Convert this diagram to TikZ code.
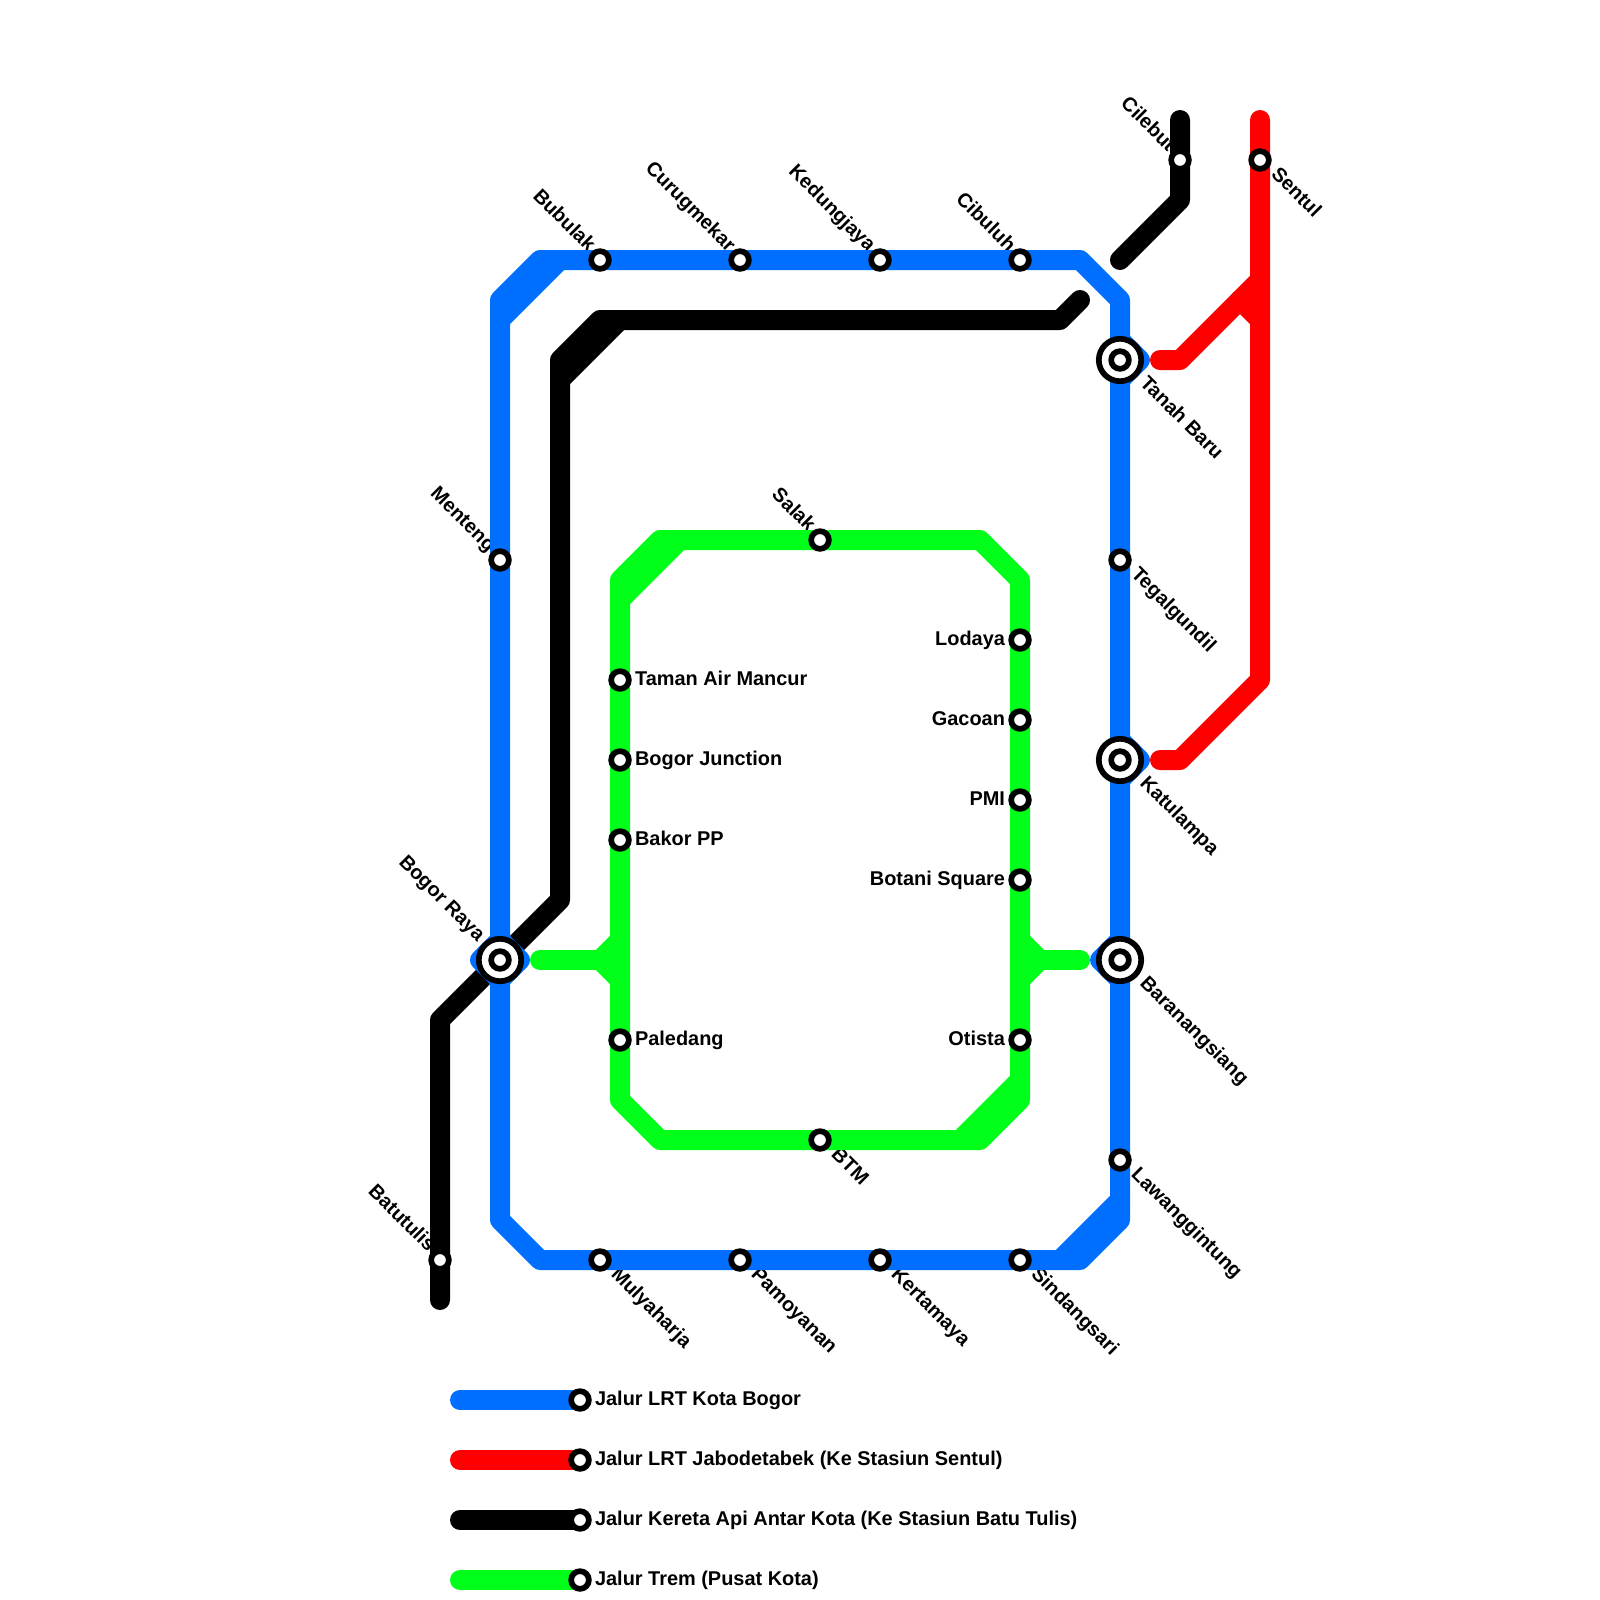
\documentclass[tikz,border=0pt]{standalone}
\usepackage{fontspec}
\setmainfont{Liberation Sans}
\definecolor{lrtblue}{HTML}{006EFF}
\definecolor{lrtred}{HTML}{FF0000}
\definecolor{tramgreen}{HTML}{00FF19}
\tikzset{
    track/.style={line width=0.5cm, line cap=round, line join=round},
    station/.style={circle, draw=black, fill=white, line width=0.1425cm, minimum size=0.4425cm, inner sep=0pt, outer sep=0pt},
    hubring/.style={circle, draw=black, fill=white, line width=0.1425cm, minimum size=1.06cm, inner sep=0pt, outer sep=0pt},
    stationtext/.style={font=\fontsize{14.17pt}{16pt}\selectfont\bfseries, inner sep=0pt, text=black, yshift=-0.125cm},
    upleft/.style={stationtext, rotate=-45, anchor=base east, xshift=-0.43cm},
    downright/.style={stationtext, rotate=-45, anchor=base west, xshift=0.36cm},
    hubupleft/.style={stationtext, rotate=-45, anchor=base east, xshift=-0.8cm},
    hubdownright/.style={stationtext, rotate=-45, anchor=base west, xshift=0.67cm},
    toright/.style={stationtext, anchor=base west, xshift=0.37cm},
    toleft/.style={stationtext, anchor=base east, xshift=-0.37cm}
}
\begin{document}
\begin{tikzpicture}[x=0.5cm, y=-0.5cm]
    \useasboundingbox (0,0) rectangle (80,80);

    % Station names
    \node[upleft] (bubulaktext) at (30,13) {Bubulak};
    \node[upleft] (curugmekartext) at (37,13) {Curugmekar};
    \node[upleft] (kedungjayatext) at (44,13) {Kedungjaya};
    \node[upleft] (cibuluhtext) at (51,13) {Cibuluh};
    \node[upleft] (cilebuttext) at (59,8) {Cilebut};
    \node[downright] (sentultext) at (63,8) {Sentul};
    \node[hubdownright] (tanahbarutext) at (56,18) {Tanah Baru};
    \node[downright] (tegalgundiltext) at (56,28) {Tegalgundil};
    \node[hubdownright] (katulampatext) at (56,38) {Katulampa};
    \node[hubdownright] (baranangsiangtext) at (56,48) {Baranangsiang};
    \node[downright] (lawanggintungtext) at (56,58) {Lawanggintung};
    \node[downright] (mulyaharjatext) at (30,63) {Mulyaharja};
    \node[downright] (pamoyanantext) at (37,63) {Pamoyanan};
    \node[downright] (kertamayatext) at (44,63) {Kertamaya};
    \node[downright] (sindangsaritext) at (51,63) {Sindangsari};
    \node[upleft] (batutulistext) at (22,63) {Batutulis};
    \node[upleft] (mentengtext) at (25,28) {Menteng};
    \node[hubupleft] (bogorrayatext) at (25,48) {Bogor Raya};
    \node[upleft] (salaktext) at (41,27) {Salak};
    \node[downright] (btmtext) at (41,57) {BTM};
    \node[toright] (tamantext) at (31,34) {Taman Air Mancur};
    \node[toright] (junctiontext) at (31,38) {Bogor Junction};
    \node[toright] (bakortext) at (31,42) {Bakor PP};
    \node[toright] (paledangtext) at (31,52) {Paledang};
    \node[toleft] (lodayatext) at (51,32) {Lodaya};
    \node[toleft] (gacoantext) at (51,36) {Gacoan};
    \node[toleft] (pmitext) at (51,40) {PMI};
    \node[toleft] (botanitext) at (51,44) {Botani Square};
    \node[toleft] (otistatext) at (51,52) {Otista};

    % Black line
    \draw[track, black] (59,6) -- (59,10) -- (56,13);
    \draw[track, black] (54,15) -- (53,16) -- (30,16) -- (28,18) -- (28,45) -- (22,51) -- (22,65);
    \draw[track, black] (28,19) -- (31,16);

    % Red line
    \draw[track, lrtred] (63,6) -- (63,34) -- (59,38) -- (58,38);
    \draw[track, lrtred] (58,18) -- (59,18) -- (63,14);
    \draw[track, lrtred] (62,15) -- (63,16);

    % Blue line
    \draw[track, lrtblue] (25,15) -- (27,13) -- (54,13) -- (56,15) -- (56,61) -- (54,63) -- (27,63) -- (25,61) -- cycle;
    \draw[track, lrtblue] (25,16) -- (28,13);
    \draw[track, lrtblue] (53,63) -- (56,60);
    \draw[track, lrtblue] (25,47) -- (24,48) -- (25,49) -- (26,48) -- cycle;
    \draw[track, lrtblue] (56,17) -- (57,18) -- (56,19);
    \draw[track, lrtblue] (56,37) -- (57,38) -- (56,39);
    \draw[track, lrtblue] (56,47) -- (55,48) -- (56,49);

    % Green line
    \draw[track, tramgreen] (31,29) -- (33,27) -- (49,27) -- (51,29) -- (51,55) -- (49,57) -- (33,57) -- (31,55) -- cycle;
    \draw[track, tramgreen] (31,30) -- (34,27);
    \draw[track, tramgreen] (48,57) -- (51,54);
    \draw[track, tramgreen] (27,48) -- (30,48);
    \draw[track, tramgreen] (31,47) -- (30,48) -- (31,49);
    \draw[track, tramgreen] (54,48) -- (52,48);
    \draw[track, tramgreen] (51,47) -- (52,48) -- (51,49);

    % Stations
    \node[station] (bubulak) at (30,13) {};
    \node[station] (curugmekar) at (37,13) {};
    \node[station] (kedungjaya) at (44,13) {};
    \node[station] (cibuluh) at (51,13) {};
    \node[station] (cilebut) at (59,8) {};
    \node[station] (sentul) at (63,8) {};
    \node[station] (tegalgundil) at (56,28) {};
    \node[station] (lawanggintung) at (56,58) {};
    \node[station] (mulyaharja) at (30,63) {};
    \node[station] (pamoyanan) at (37,63) {};
    \node[station] (kertamaya) at (44,63) {};
    \node[station] (sindangsari) at (51,63) {};
    \node[station] (batutulis) at (22,63) {};
    \node[station] (menteng) at (25,28) {};
    \node[station] (salak) at (41,27) {};
    \node[station] (btm) at (41,57) {};
    \node[station] (taman) at (31,34) {};
    \node[station] (junction) at (31,38) {};
    \node[station] (bakor) at (31,42) {};
    \node[station] (paledang) at (31,52) {};
    \node[station] (lodaya) at (51,32) {};
    \node[station] (gacoan) at (51,36) {};
    \node[station] (pmi) at (51,40) {};
    \node[station] (botani) at (51,44) {};
    \node[station] (otista) at (51,52) {};

    % Interchanges
    \node[hubring] (tanahbaruring) at (56,18) {};
    \node[station] (tanahbaru) at (56,18) {};
    \node[hubring] (katulampring) at (56,38) {};
    \node[station] (katulampa) at (56,38) {};
    \node[hubring] (baranangring) at (56,48) {};
    \node[station] (baranangsiang) at (56,48) {};
    \node[hubring] (bogorring) at (25,48) {};
    \node[station] (bogorraya) at (25,48) {};

    % Legend
    \coordinate (keybluestart) at (23,70);
    \coordinate (keyredstart) at (23,73);
    \coordinate (keyblackstart) at (23,76);
    \coordinate (keygreenstart) at (23,79);
    \coordinate (keyblueend) at (29,70);
    \coordinate (keyredend) at (29,73);
    \coordinate (keyblackend) at (29,76);
    \coordinate (keygreenend) at (29,79);
    \draw[track, lrtblue] (keybluestart) -- (keyblueend);
    \draw[track, lrtred] (keyredstart) -- (keyredend);
    \draw[track, black] (keyblackstart) -- (keyblackend);
    \draw[track, tramgreen] (keygreenstart) -- (keygreenend);
    \node[station] (keyblue) at (keyblueend) {};
    \node[station] (keyred) at (keyredend) {};
    \node[station] (keyblack) at (keyblackend) {};
    \node[station] (keygreen) at (keygreenend) {};
    \node[toright] (keybluetext) at (keyblue) {Jalur LRT Kota Bogor};
    \node[toright] (keyredtext) at (keyred) {Jalur LRT Jabodetabek (Ke Stasiun Sentul)};
    \node[toright] (keyblacktext) at (keyblack) {Jalur Kereta Api Antar Kota (Ke Stasiun Batu Tulis)};
    \node[toright] (keygreentext) at (keygreen) {Jalur Trem (Pusat Kota)};
\end{tikzpicture}
\end{document}
